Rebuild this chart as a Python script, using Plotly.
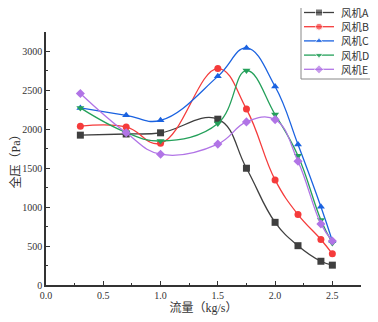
import plotly.graph_objects as go

flow = [0.3, 0.7, 1.0, 1.5, 1.75, 2.0, 2.2, 2.4, 2.5]
fan_a = [1925, 1940, 1955, 2130, 1500, 805, 505, 305, 255]
fan_b = [2040, 2030, 1820, 2780, 2260, 1350, 905, 585, 400]
fan_c = [2275, 2180, 2115, 2680, 3045, 2550, 1805, 1005, 565]
fan_d = [2275, 1960, 1850, 2075, 2755, 2190, 1660, 835, 540]
fan_e = [2460, 1955, 1680, 1810, 2095, 2125, 1590, 785, 565]
names = ["风机A", "风机B", "风机C", "风机D", "风机E"]

series = [fan_a, fan_b, fan_c, fan_d, fan_e]
colors = ["#3f3f3f", "#f53b3b", "#1a62e0", "#24a05a", "#b174e6"]
symbols = ["square", "circle", "triangle-up", "triangle-down", "diamond"]

# page has an 8px body margin, so the figure is drawn 8px in from the window edge
OFF = 8
WIN_W, WIN_H = 378, 322
W, H = WIN_W - OFF, WIN_H - OFF
font_fam = "Liberation Serif, Noto Sans CJK SC, serif"

# plot area in window pixels
PL, PR, PT, PB = 46, 361, 32, 285

fig = go.Figure()
for name, ys, c, s in zip(names, series, colors, symbols):
    fig.add_trace(go.Scatter(
        x=flow, y=ys, name=name, mode="lines+markers",
        line=dict(color=c, width=1.3, shape="spline", smoothing=1.2),
        marker=dict(symbol=s, size=7, color=c),
        showlegend=False, xaxis="x", yaxis="y",
    ))

# custom legend drawn in a window-pixel overlay (x2/y2)
leg_left, leg_right, leg_top, leg_bottom = 301, 377, 3, 79
row0, row_gap = 12.5, 14.2
for i, (name, c, s) in enumerate(zip(names, colors, symbols)):
    ry = row0 + i * row_gap
    fig.add_trace(go.Scatter(
        x=[304, 319, 334], y=[ry, ry, ry], mode="lines+markers",
        line=dict(color=c, width=1.3),
        marker=dict(symbol=s, size=[0, 7, 0], color=c),
        showlegend=False, hoverinfo="skip", xaxis="x2", yaxis="y2",
    ))
    fig.add_annotation(
        x=339, y=ry, xref="x2", yref="y2", text=name, showarrow=False,
        xanchor="left", yanchor="middle",
        font=dict(family="Noto Sans CJK SC, sans-serif", size=10.5, color="#333333"),
    )
fig.add_shape(type="rect", xref="x2", yref="y2",
              x0=leg_left, x1=leg_right, y0=leg_top, y1=leg_bottom,
              line=dict(color="#888888", width=1), layer="below")

fig.update_layout(
    width=W, height=H,
    margin=dict(l=0, r=0, t=0, b=0, autoexpand=False),
    paper_bgcolor="white", plot_bgcolor="rgba(0,0,0,0)",
    font=dict(family=font_fam, size=11, color="#333333"),
    showlegend=False,
    xaxis=dict(
        domain=[(PL - OFF) / W, (PR - OFF) / W], anchor="y",
        range=[0, 2.75], tickvals=[0, 0.5, 1.0, 1.5, 2.0, 2.5],
        ticktext=["0.0", "0.5", "1.0", "1.5", "2.0", "2.5"],
        ticks="inside", ticklen=4, tickwidth=1, tickcolor="#333333",
        minor=dict(tickvals=[0.25, 0.75, 1.25, 1.75, 2.25, 2.75], ticks="inside", ticklen=2, tickcolor="#333333"),
        showline=True, linecolor="#333333", linewidth=1.5,
        showgrid=False, zeroline=False, automargin=False,
        title=dict(text="流量（kg/s）", font=dict(size=12), standoff=0),
        tickfont=dict(size=10),
    ),
    yaxis=dict(
        domain=[(H - (PB - OFF)) / H, (H - (PT - OFF)) / H], anchor="x",
        range=[0, 3250], tickvals=[0, 500, 1000, 1500, 2000, 2500, 3000],
        ticks="inside", ticklen=4, tickwidth=1, tickcolor="#333333",
        minor=dict(tickvals=[250, 750, 1250, 1750, 2250, 2750, 3250], ticks="inside", ticklen=2, tickcolor="#333333"),
        showline=True, linecolor="#333333", linewidth=1.5,
        showgrid=False, zeroline=False, automargin=False,
        title=dict(text="全压（Pa）", font=dict(size=12), standoff=2),
        tickfont=dict(size=10),
    ),
    xaxis2=dict(domain=[0, 1], anchor="y2", range=[OFF, OFF + W], visible=False, fixedrange=True),
    yaxis2=dict(domain=[0, 1], anchor="x2", range=[OFF + H, OFF], visible=False, fixedrange=True),
)

fig.write_html("out.html")
